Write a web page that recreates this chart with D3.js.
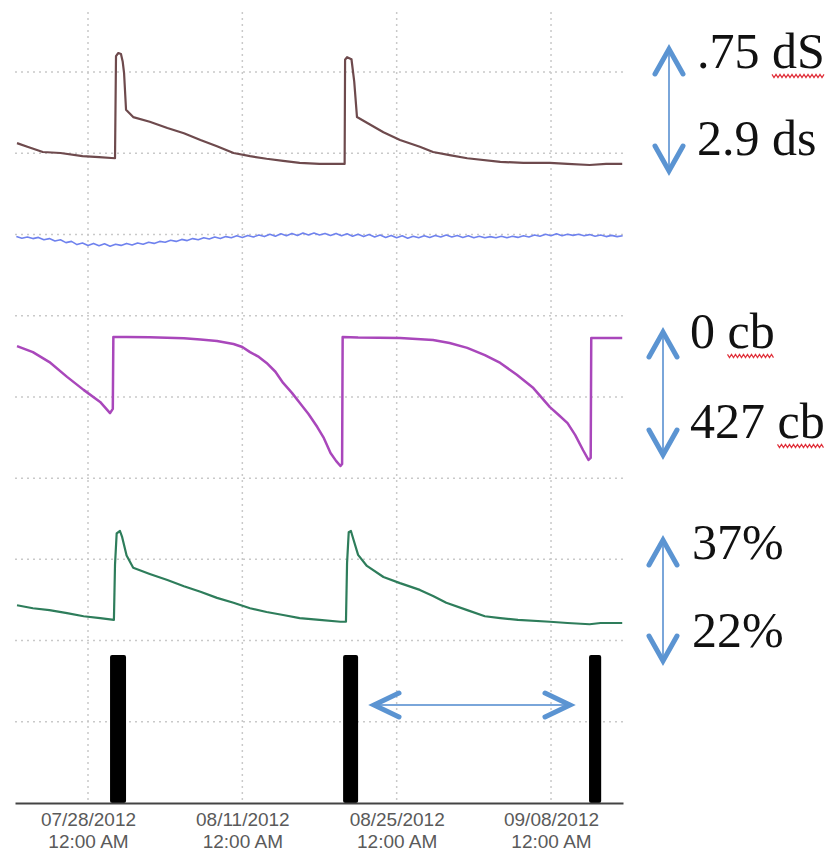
<!DOCTYPE html>
<html lang="en">

<head>
    <meta charset="UTF-8">
    <title>Soil sensors – irrigation cycles</title>
    <script src="https://d3js.org/d3.v7.min.js"></script>
    <style>
        body { margin: 0; background: #fff; }
        svg { display: block; }
    </style>
</head>

<body>
    <script>
        // ---- data (days counted from 07/21/2012 00:00) ----
        const tickLabels = ["07/28/2012", "08/11/2012", "08/25/2012", "09/08/2012"];

        // bulk EC (dS/m), brown trace
        const ecDays = [0.56, 1.5, 2.9, 4.5, 6.5, 8.0, 9.45, 9.54, 9.75, 9.99, 10.15, 10.27, 10.45, 11.1, 12.6, 14.2, 15.7,
            17.2, 18.7, 20.2, 21.7, 23.2, 24.7, 26.2, 28.0, 30.28, 30.32, 30.5, 30.9, 31.15, 31.4, 32.3, 33.8, 35.3,
            37.1, 38.3, 39.8, 41.4, 44.4, 46.5, 48.9, 50.5, 52.5, 54.0, 55.46];
        const ecValues = [2.48, 2.55, 2.65, 2.67, 2.73, 2.75, 2.77, 0.81, 0.75, 0.77, 0.92, 1.13, 1.84, 1.98, 2.07, 2.19, 2.29,
            2.42, 2.54, 2.67, 2.73, 2.78, 2.82, 2.86, 2.88, 2.88, 0.88, 0.83, 0.87, 1.30, 1.98, 2.09, 2.27, 2.42,
            2.55, 2.65, 2.71, 2.77, 2.84, 2.86, 2.86, 2.88, 2.90, 2.88, 2.88];

        // soil temperature (°C), blue trace, one reading every 12 h from day 0.5
        const tempValues = [24.6, 24.2, 24.5, 24.1, 24.4, 23.8, 24.1, 23.5, 23.8, 23.1, 23.4,
            22.6, 23.0, 22.4, 22.9, 22.3, 22.8, 22.2, 22.7, 22.4, 22.9, 22.5, 23.0, 22.7, 23.2, 22.9, 23.4,
            23.2, 23.7, 23.4, 23.9, 23.6, 24.1, 23.8, 24.3, 24.0, 24.5, 24.1, 24.6, 24.3, 24.8, 24.4, 24.9,
            24.5, 25.0, 24.6, 25.2, 24.7, 25.3, 24.8, 25.4, 24.9, 25.5, 25.0, 25.5, 25.0, 25.4, 24.9, 25.4,
            24.8, 25.3, 24.7, 25.2, 24.6, 25.1, 24.5, 25.0, 24.4, 24.9, 24.3, 24.8, 24.2, 24.7, 24.3, 24.8,
            24.4, 24.9, 24.5, 25.0, 24.5, 24.9, 24.4, 24.8, 24.3, 24.7, 24.3, 24.6, 24.3, 24.7, 24.3, 24.7,
            24.4, 24.8, 24.5, 25.0, 24.7, 25.2, 24.8, 25.3, 24.8, 25.2, 24.9, 25.2, 24.8, 25.1, 24.7, 25.0,
            24.6, 24.9, 24.6, 24.8];

        // soil water tension (cb), magenta trace
        const tensionDays = [0.56, 2.0, 3.5, 5.1, 6.6, 8.1, 9.0, 9.25, 9.3, 10.5, 12.6, 15.7, 17.2, 18.7, 20.2, 21.0, 21.7,
            22.5, 23.2, 24.0, 24.7, 25.5, 26.2, 27.0, 27.8, 28.4, 29.0, 29.5, 29.9, 30.05, 30.1, 31.5, 35.3, 38.3,
            39.8, 41.4, 43.0, 44.4, 45.9, 47.4, 48.9, 49.7, 50.5, 51.2, 51.9, 52.4, 52.6, 52.65, 55.46];
        const tensionValues = [30, 50, 83, 132, 175, 215, 252, 238, 0, 0, 1, 4, 8, 13, 23, 33, 50,
            66, 86, 115, 152, 185, 218, 255, 298, 335, 384, 410, 427, 420, 0, 2, 3, 10,
            20, 36, 60, 86, 125, 169, 232, 258, 285, 325, 374, 407, 400, 3, 3];

        // volumetric water content (%), green trace
        const vwcDays = [0.56, 2.0, 3.5, 5.1, 6.6, 8.1, 9.35, 9.45, 9.6, 9.9, 10.1, 10.5, 11.1, 12.6, 14.2, 15.7, 17.2,
            18.7, 20.2, 21.7, 23.2, 24.7, 26.2, 28.0, 29.9, 30.4, 30.5, 30.65, 30.85, 31.1, 31.5, 32.3, 33.8, 35.3,
            37.1, 38.3, 39.5, 41.4, 43.0, 44.4, 46.0, 48.9, 50.5, 52.5, 53.5, 55.46];
        const vwcValues = [24.9, 24.4, 24.1, 23.6, 23.1, 22.8, 22.5, 31.5, 36.6, 37.0, 36.0, 33.0, 31.0, 30.0, 29.0, 28.0, 27.1,
            26.1, 25.3, 24.4, 23.8, 23.3, 22.8, 22.5, 22.2, 22.2, 31.8, 36.8, 37.0, 35.5, 33.1, 31.3, 29.5, 28.5,
            27.4, 26.4, 25.3, 24.1, 23.1, 22.8, 22.5, 22.2, 22.0, 21.8, 22.0, 22.0];

        // irrigation events (start day, end day)
        const irrigationStart = [9.0, 30.14, 52.45];
        const irrigationEnd = [10.45, 31.5, 53.55];

        // range annotations on the right
        const rangeTop = [".75 dS", "0 cb", "37%"];
        const rangeBottom = ["2.9 ds", "427 cb", "22%"];

        // ---- chart ----
        const width = 833;
        const height = 851;
        const day0 = Date.UTC(2012, 6, 21);
        const toDate = d => new Date(day0 + d * 864e5);

        const svg = d3.select("body").append("svg")
            .attr("width", width)
            .attr("height", height)
            .style("background", "#fff");

        const x = d3.scaleUtc()
            .domain([toDate(0.378), toDate(55.53)])
            .range([15, 623]);

        const axisY = 803;
        const plotTop = 12;
        const grid = d3.scaleLinear().domain([0, 9.74]).range([axisY, plotTop]);

        const ecY = d3.scaleLinear().domain([0.75, 2.9]).range([53, 165]);
        const tempY = d3.scaleLinear().domain([22, 26]).range([247, 231]);
        const tensionY = d3.scaleLinear().domain([0, 427]).range([337, 466]);
        const vwcY = d3.scaleLinear().domain([22, 37]).range([623, 531]);
        const irrY = d3.scaleLinear().domain([0, 1]).range([axisY, 655]);

        const parseTick = d3.utcParse("%m/%d/%Y");
        const tickDates = tickLabels.map(parseTick);

        // dotted gridlines
        const gridG = svg.append("g")
            .attr("stroke", "#c9c9c9")
            .attr("stroke-width", 1.5)
            .attr("stroke-dasharray", "2,4");

        gridG.selectAll(".hgrid")
            .data(d3.range(1, 10))
            .enter().append("line")
            .attr("x1", x.range()[0]).attr("x2", x.range()[1])
            .attr("y1", d => grid(d)).attr("y2", d => grid(d));

        gridG.selectAll(".vgrid")
            .data(tickDates)
            .enter().append("line")
            .attr("x1", d => x(d)).attr("x2", d => x(d))
            .attr("y1", plotTop).attr("y2", axisY);

        // irrigation bars
        svg.append("g").selectAll("rect")
            .data(irrigationStart.map((s, i) => ({ s: s, e: irrigationEnd[i] })))
            .enter().append("rect")
            .attr("x", d => x(toDate(d.s)))
            .attr("width", d => x(toDate(d.e)) - x(toDate(d.s)))
            .attr("y", irrY(1))
            .attr("height", irrY(0) - irrY(1))
            .attr("rx", 2)
            .attr("fill", "#000");

        // traces
        function trace(days, values, yScale, color, w) {
            const pts = days.map((d, i) => [x(toDate(d)), yScale(values[i])]);
            svg.append("path")
                .attr("d", d3.line()(pts))
                .attr("fill", "none")
                .attr("stroke", color)
                .attr("stroke-width", w)
                .attr("stroke-linejoin", "round");
        }

        trace(ecDays, ecValues, ecY, "#6e4a4d", 2.2);
        trace(tempValues.map((v, i) => 0.5 + i * 0.5), tempValues, tempY, "#6f82ee", 1.6);
        trace(tensionDays, tensionValues, tensionY, "#a947bb", 2.5);
        trace(vwcDays, vwcValues, vwcY, "#2e7d5b", 2.2);

        // x axis
        const xAxis = svg.append("g")
            .attr("transform", `translate(0,${axisY})`)
            .call(d3.axisBottom(x).tickValues(tickDates).tickSize(0).tickSizeOuter(0));

        xAxis.select(".domain").attr("stroke", "#444").attr("stroke-width", 2);
        xAxis.selectAll(".tick text").each(function (d, i) {
            const t = d3.select(this).text(null).attr("dy", null).attr("y", null)
                .attr("fill", "#5a5a5a")
                .style("font-family", "'Liberation Sans', Arial, sans-serif")
                .style("font-size", "19px");
            t.append("tspan").attr("x", 0).attr("y", 23).text(tickLabels[i]);
            t.append("tspan").attr("x", 0).attr("y", 45).text("12:00 AM");
        });

        // blue arrows
        const arrowColor = "#5b94d2";

        function chevron(g, tip, a, b) {
            g.append("path")
                .attr("d", d3.line()([a, tip, b]))
                .attr("fill", "none")
                .attr("stroke", arrowColor)
                .attr("stroke-width", 5)
                .attr("stroke-linecap", "round")
                .attr("stroke-linejoin", "miter");
        }

        function vArrow(cx, y1, y2) {
            const g = svg.append("g");
            g.append("line")
                .attr("x1", cx).attr("x2", cx).attr("y1", y1 + 4).attr("y2", y2 - 4)
                .attr("stroke", "#7aa6da").attr("stroke-width", 2);
            chevron(g, [cx, y1], [cx - 14, y1 + 25], [cx + 14, y1 + 25]);
            chevron(g, [cx, y2], [cx - 14, y2 - 25], [cx + 14, y2 - 25]);
        }

        vArrow(669, 49, 171);
        vArrow(663, 332, 455);
        vArrow(663, 540, 661);

        const hg = svg.append("g");
        hg.append("line")
            .attr("x1", 376).attr("x2", 568).attr("y1", 705).attr("y2", 705)
            .attr("stroke", "#7aa6da").attr("stroke-width", 2);
        chevron(hg, [374, 705], [399, 693], [399, 717]);
        chevron(hg, [570, 705], [545, 693], [545, 717]);

        // range labels with spell-check squiggles
        const labelPos = [
            { top: [697, 68], bottom: [697, 155] },
            { top: [690, 348], bottom: [690, 438] },
            { top: [692, 559], bottom: [692, 647] }
        ];

        function squiggle(x0, x1, y) {
            const pts = [];
            for (let px = x0, k = 0; px <= x1; px += 2, k++) pts.push([px, y + (k % 2 ? 1.6 : -1.6)]);
            svg.append("path")
                .attr("d", d3.line()(pts))
                .attr("fill", "none")
                .attr("stroke", "#e0303a")
                .attr("stroke-width", 1.2);
        }

        function label(str, pos, wavy) {
            const t = svg.append("text")
                .attr("x", pos[0]).attr("y", pos[1])
                .attr("fill", "#111")
                .style("font-family", "'Liberation Serif', 'Times New Roman', serif")
                .style("font-size", "50px")
                .text(str);
            if (wavy) {
                const idx = str.indexOf(wavy);
                const node = t.node();
                const start = pos[0] + (idx > 0 ? node.getSubStringLength(0, idx) : 0);
                const w = node.getSubStringLength(idx, wavy.length);
                squiggle(start, start + w, pos[1] + 8);
            }
        }

        rangeTop.forEach((s, i) => label(s, labelPos[i].top, s.includes("dS") ? "dS" : s.includes("cb") ? "cb" : null));
        rangeBottom.forEach((s, i) => label(s, labelPos[i].bottom, s.includes("cb") ? "cb" : null));
    </script>
</body>

</html>
